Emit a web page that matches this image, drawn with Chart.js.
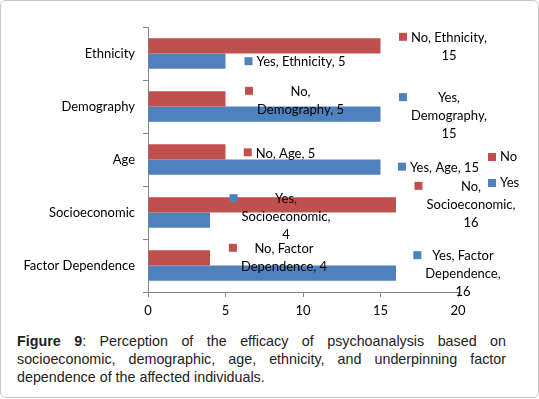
<!DOCTYPE html>
<html>
<head>
<meta charset="utf-8">
<script src="https://cdn.jsdelivr.net/npm/chart.js@4/dist/chart.umd.min.js"></script>
<style>
  html, body { margin: 0; padding: 0; background: #fff; }
  #frame {
    position: absolute; left: 0; top: 0; width: 539px; height: 398px;
    box-sizing: border-box; border: 1.5px solid #c6c6c6; border-radius: 6px;
  }
  #chart-box { position: absolute; left: 0; top: 0; width: 539px; height: 325px; }
  #caption {
    position: absolute; left: 17px; top: 332px; width: 489px;
    font-family: "Liberation Sans", Arial, sans-serif; font-size: 14.3px; line-height: 18px;
    text-align: justify; color: #222;
  }
</style>
</head>
<body>
<div id="frame"></div>
<div id="chart-box"><canvas id="perception-chart"></canvas></div>
<div id="caption"><b>Figure 9</b>: Perception of the efficacy of psychoanalysis based on socioeconomic, demographic, age, ethnicity, and underpinning factor dependence of the affected individuals.</div>
<script>
// datos
const categories = ['Ethnicity', 'Demography', 'Age', 'Socioeconomic', 'Factor Dependence'];
const seriesNames = ['No', 'Yes'];
const noValues = [15, 5, 5, 16, 4];
const yesValues = [5, 15, 15, 4, 16];
const xTicks = [0, 5, 10, 15, 20];

const RED = '#C0504D';
const BLUE = '#4F81BD';
const FONT = 'Lato, "Open Sans", sans-serif';

// desplazamiento de cada etiqueta respecto al extremo de su barra (px)
const labelNudge = [
  [[68.5, -8], [75, -7], [60, 1.5], [75, -18], [74, -9]],
  [[75.5, 1], [68.5, -16], [64, 0.5], [76, -21], [67, -17]]
];
const wrapWidth = 93;

const wrapText = (ctx, text, maxW) => {
  const words = text.split(' ');
  const lines = [];
  let cur = '';
  words.forEach(w => {
    const test = cur ? cur + ' ' + w : w;
    if (cur && ctx.measureText(test).width > maxW) {
      lines.push(cur);
      cur = w;
    } else {
      cur = test;
    }
  });
  if (cur) lines.push(cur);
  return lines;
};

const excelLabels = {
  id: 'excelLabels',
  afterDatasetsDraw(chart) {
    const ctx = chart.ctx;
    ctx.save();
    ctx.font = '13px ' + FONT;
    ctx.textBaseline = 'middle';
    ctx.textAlign = 'center';
    chart.data.datasets.forEach((ds, di) => {
      const meta = chart.getDatasetMeta(di);
      meta.data.forEach((bar, i) => {
        const text = ds.label + ', ' + chart.data.labels[i] + ', ' + ds.data[i];
        const lines = wrapText(ctx, text, wrapWidth);
        const blockW = Math.max(...lines.map(l => ctx.measureText(l).width));
        const cx = bar.x + labelNudge[di][i][0];
        const cy = bar.y + labelNudge[di][i][1];
        ctx.fillStyle = '#000';
        lines.forEach((l, k) => ctx.fillText(l, cx, cy + k * 18));
        ctx.fillStyle = ds.backgroundColor;
        ctx.fillRect(cx - blockW / 2 - 12, cy - 5, 8, 8);
      });
    });
    // leyenda
    const lx = chart.chartArea.right + 30;
    let ly = chart.chartArea.top + 130;
    ctx.textAlign = 'left';
    chart.data.datasets.forEach(ds => {
      ctx.fillStyle = ds.backgroundColor;
      ctx.fillRect(lx, ly - 4, 8, 8);
      ctx.fillStyle = '#000';
      ctx.fillText(ds.label, lx + 12, ly);
      ly += 26;
    });
    ctx.restore();
  }
};

const renderChart = () => {
  const ctx = document.getElementById('perception-chart').getContext('2d');
  new Chart(ctx, {
    type: 'bar',
    data: {
      labels: categories,
      datasets: [
        { label: seriesNames[0], data: noValues, backgroundColor: RED },
        { label: seriesNames[1], data: yesValues, backgroundColor: BLUE }
      ]
    },
    options: {
      indexAxis: 'y',
      responsive: true,
      maintainAspectRatio: false,
      animation: false,
      categoryPercentage: 0.58,
      barPercentage: 1,
      layout: { padding: { top: 27, right: 81, left: 0, bottom: 0 } },
      scales: {
        x: {
          min: 0,
          max: 20,
          afterBuildTicks: (scale) => { scale.ticks = xTicks.map(v => ({ value: v })); },
          afterFit: (scale) => { scale.height = 33; },
          grid: { drawOnChartArea: false, drawTicks: true, tickLength: 5, color: '#868686' },
          border: { color: '#868686' },
          ticks: { color: '#000', padding: 6, font: { family: FONT, size: 13 } }
        },
        y: {
          afterFit: (scale) => { scale.width = 148; },
          grid: { drawOnChartArea: false, drawTicks: true, tickLength: 5, color: '#868686' },
          border: { color: '#868686' },
          ticks: { color: '#000', padding: 8, font: { family: FONT, size: 13 } }
        }
      },
      plugins: {
        legend: { display: false },
        tooltip: { enabled: false }
      }
    },
    plugins: [excelLabels]
  });
};

renderChart();
</script>
</body>
</html>
